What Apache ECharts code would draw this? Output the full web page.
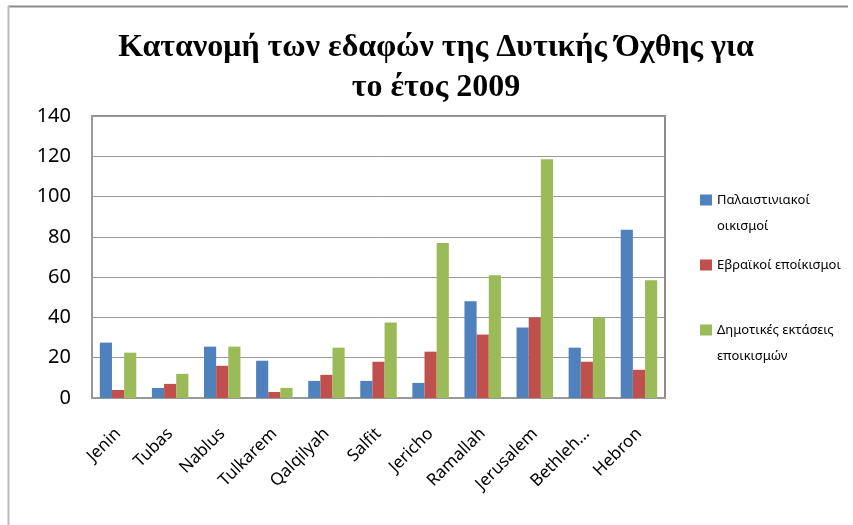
<!DOCTYPE html>
<html>
<head>
<meta charset="utf-8">
<script src="https://cdn.jsdelivr.net/npm/echarts@6/dist/echarts.min.js"></script>
<style>
  html, body { margin: 0; padding: 0; background: #fff; }
  #chart { width: 853px; height: 525px; }
</style>
</head>
<body>
<div id="chart"></div>
<script>
const districts = ['Jenin', 'Tubas', 'Nablus', 'Tulkarem', 'Qalqilyah', 'Salfit', 'Jericho', 'Ramallah', 'Jerusalem', 'Bethleh…', 'Hebron']
const palestinian = [27.5, 5, 25.5, 18.5, 8.5, 8.5, 7.5, 48, 35, 25, 83.5]
const israeli = [4, 7, 16, 3, 11.5, 18, 23, 31.5, 40, 18, 14]
const municipal = [22.5, 12, 25.5, 5, 25, 37.5, 77, 61, 118.5, 40, 58.5]
const seriesNames = ['Παλαιστινιακοί οικισμοί', 'Εβραϊκοί εποίκισμοι', 'Δημοτικές εκτάσεις εποικισμών']
// how the legend breaks the names; the leading blank line keeps the square on the first line
const legendText = {
  'Παλαιστινιακοί οικισμοί': '\nΠαλαιστινιακοί\nοικισμοί',
  'Εβραϊκοί εποίκισμοι': 'Εβραϊκοί εποίκισμοι',
  'Δημοτικές εκτάσεις εποικισμών': '\nΔημοτικές εκτάσεις\nεποικισμών'
}
const yTicks = { min: 0, max: 140, interval: 20 }
const colors = ['#4f81bd', '#c0504d', '#9bbb59']

const chart = echarts.init(document.getElementById('chart'))

const bar = (name, data) => ({
  name: name,
  type: 'bar',
  data: data,
  barGap: '0%',
  barCategoryGap: '30%'
})

chart.setOption({
  animation: false,
  color: colors,
  title: {
    text: 'Κατανομή των εδαφών της Δυτικής Όχθης για\nτο έτος 2009',
    left: 431,
    top: 23,
    textAlign: 'center',
    textStyle: {
      fontFamily: 'Liberation Serif',
      fontWeight: 'bold',
      fontSize: 32,
      lineHeight: 40,
      color: '#000'
    }
  },
  legend: {
    orient: 'vertical',
    left: 695,
    top: 156,
    itemWidth: 12,
    itemHeight: 11,
    itemGap: 13,
    icon: 'rect',
    data: seriesNames,
    formatter: name => legendText[name],
    textStyle: {
      fontFamily: 'Noto Sans',
      fontSize: 13,
      lineHeight: 26,
      color: '#000'
    }
  },
  grid: {
    left: 92,
    right: 188,
    top: 116,
    bottom: 127,
    show: true,
    borderColor: '#8c8c8c',
    borderWidth: 2
  },
  xAxis: {
    type: 'category',
    data: districts,
    axisLine: { lineStyle: { color: '#999', width: 2 } },
    axisTick: { show: false },
    axisLabel: {
      interval: 0,
      rotate: 45,
      margin: 33,
      fontFamily: 'Noto Sans',
      fontSize: 17,
      color: '#000'
    }
  },
  yAxis: {
    type: 'value',
    min: yTicks.min,
    max: yTicks.max,
    interval: yTicks.interval,
    axisLine: { show: true, lineStyle: { color: '#999', width: 2 } },
    axisTick: { show: false },
    splitLine: { lineStyle: { color: '#999', width: 1 } },
    axisLabel: {
      margin: 21,
      fontFamily: 'Noto Sans',
      fontSize: 20,
      color: '#000'
    }
  },
  graphic: [
    { type: 'line', shape: { x1: 8, y1: 6.5, x2: 848, y2: 6.5 }, style: { stroke: '#8a8a8a', lineWidth: 2 } },
    { type: 'line', shape: { x1: 8.5, y1: 6, x2: 8.5, y2: 525 }, style: { stroke: '#bdbdbd', lineWidth: 2 } }
  ],
  series: [
    bar(seriesNames[0], palestinian),
    bar(seriesNames[1], israeli),
    bar(seriesNames[2], municipal)
  ]
})
</script>
</body>
</html>
